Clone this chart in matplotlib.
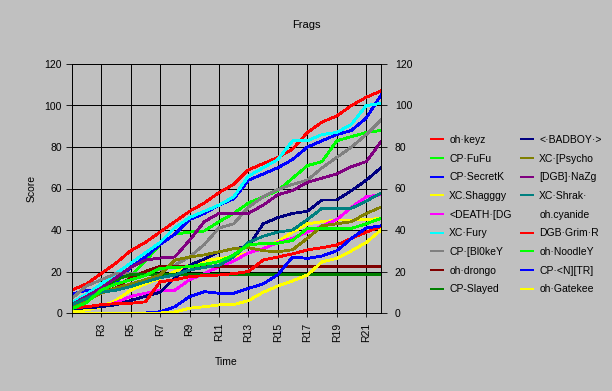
import numpy as np
from matplotlib import pyplot as plt

plt.rcParams['font.family'] = ['Liberation Sans', 'DejaVu Sans']
plt.rcParams['font.size'] = 7.5
plt.rcParams['lines.antialiased'] = False

BG = '#C0C0C0'

rounds = ['R1', 'R2', 'R3', 'R4', 'R5', 'R6', 'R7', 'R8', 'R9', 'R10', 'R11',
          'R12', 'R13', 'R14', 'R15', 'R16', 'R17', 'R18', 'R19', 'R20', 'R21', 'R22']
tick_labels = ['', 'R3', 'R5', 'R7', 'R9', 'R11', 'R13', 'R15', 'R17', 'R19', 'R21']

# очки игроков по раундам
oh_keyz = [11, 14, 19, 24, 30, 34, 39, 44, 49, 53, 58, 62, 69, 72, 75, 79, 87, 92, 95, 100, 104, 107]
cp_fufu = [4, 8, 13, 17, 18, 25, 33, 38, 39, 39.5, 44, 48, 53, 56, 59, 65, 71, 73, 83, 85, 87, 88]
cp_secretk = [9, 11, 11, 15, 22, 27, 33, 38, 45, 48, 52, 55, 64, 67, 70, 74, 80, 83, 86, 88, 94, 105]
xc_shagggy = [0.5, 1.5, 3, 6, 11, 14, 16.7, 20, 23, 25, 26.3, 27, 29, 31, 34.5, 39, 43, 44, 44.8, 44.8, 45, 45.6]
death_dg = [2, 2.5, 3, 5, 8, 9.5, 11, 11, 16, 19, 22.3, 25, 29, 31, 34, 36, 39, 42, 45, 51, 56, 57]
xc_fury = [5, 9, 14, 19, 24, 29, 34, 41, 46, 49, 52, 56, 66, 70, 74, 83, 83, 86, 87, 91, 100, 101]
cp_blokey = [7, 13, 16, 19, 19, 19, 21, 23, 27, 33, 41, 43, 51, 56, 59.5, 62, 64, 70, 75, 80, 86, 93]
oh_drongo = [3, 6, 10, 12, 17, 20, 22.5, 22.5, 22.5, 22.5, 22.5, 22.5, 22.5, 22.5, 22.5, 22.5, 22.5, 22.5, 22.5, 22.5, 22.5, 22.5]
cp_slayed = [4, 7, 12, 16, 18.5, 18.5, 18.5, 18.5, 18.5, 18.5, 18.5, 18.5, 18.5, 18.5, 18.5, 18.5, 18.5, 18.5, 18.5, 18.5, 18.5, 18.5]
badboy = [2, 2.5, 3, 4, 6, 8, 10, 17, 23, 26, 29.5, 31, 32, 43, 46, 48, 49, 54.5, 54.5, 59, 64, 70]
xc_psycho = [3, 6, 9.5, 12, 14, 16, 18.3, 25.5, 27, 28, 29.5, 31, 31.5, 30, 29.5, 30.5, 36, 42, 43, 44, 48, 51]
dgb_nazg = [4, 8, 12, 17, 22, 25.5, 26.5, 27, 35, 44, 48, 48, 48, 52, 57, 59, 63, 65, 67, 70.5, 73, 82.5]
xc_shrak = [4, 7, 10, 11, 12.7, 15, 17, 18.3, 20.7, 22, 23, 27, 34, 37, 39, 40, 45, 50.5, 50.5, 50.5, 54, 57.7]
oh_cyanide = [np.nan] * 22
dgb_grim = [2.4, 3, 4, 4.5, 4.7, 5.4, 15, 16, 17.5, 18, 18.3, 19, 20, 25.5, 27, 28.5, 30.4, 31.5, 32.8, 36, 39, 41.6]
oh_noodley = [2, 5, 11, 14, 16, 18, 21.5, 22, 22.3, 23.5, 24.7, 28, 32.8, 33.5, 33.6, 35, 40.8, 40.8, 40.8, 40.8, 43, 45.6]
cp_ntr = [0, 0, 0, 0, 0, 0, 0.6, 3, 7.9, 10.3, 9.5, 9.5, 11.9, 14, 18.5, 27, 26.3, 27.5, 30, 36, 41, 42]
oh_gatekee = [0, 0, 0, 0, 0, 0, 0, 0.5, 2.3, 3, 3.9, 4, 6, 10, 13, 15.5, 18.3, 24.7, 26.3, 30, 34, 40]

names = ['oh·keyz', 'CP·FuFu', 'CP·SecretK', 'XC.Shagggy', '<DEATH·[DG', 'XC·Fury',
         'CP·[Bl0keY', 'oh·drongo', 'CP-Slayed', '<·BADBOY·>', 'XC·[Psycho', '[DGB]·NaZg',
         'XC·Shrak·', 'oh.cyanide', 'DGB·Grim·R', 'oh·NoodleY', 'CP·<N][TR]', 'oh·Gatekee']
series = [oh_keyz, cp_fufu, cp_secretk, xc_shagggy, death_dg, xc_fury, cp_blokey, oh_drongo,
          cp_slayed, badboy, xc_psycho, dgb_nazg, xc_shrak, oh_cyanide, dgb_grim, oh_noodley,
          cp_ntr, oh_gatekee]
colors = ['#FF0000', '#00FF00', '#0000FF', '#FFFF00', '#FF00FF', '#00FFFF', '#808080', '#800000',
          '#008000', '#000080', '#808000', '#800080', '#008080', '#C0C0C0', '#FF0000', '#00FF00',
          '#0000FF', '#FFFF00']

fig = plt.figure(figsize=(6.12, 3.91), dpi=100, facecolor=BG)
ax = fig.add_axes([71.7 / 612, 1 - 313 / 391, 309.3 / 612, 249 / 391])
ax.set_facecolor(BG)

x = np.arange(len(rounds))
lines = []
for vals, c, n in zip(series, colors, names):
    ln, = ax.plot(x, vals, color=c, lw=1.3, label=n, zorder=3)
    lines.append(ln)

ax.set_xlim(0, len(rounds) - 1)
ax.set_ylim(0, 120)
ax.set_yticks(range(0, 121, 20))
ax.set_xticks(range(0, 21, 2))
ax.set_xticklabels(tick_labels, rotation=90)
ax.grid(True, color='black', lw=0.6, zorder=1)
ax.set_axisbelow(True)
ax.tick_params(axis='x', direction='out', length=3, width=0.6, pad=4)
ax.tick_params(axis='y', direction='out', length=4, width=0.6, pad=3)
for s in ax.spines.values():
    s.set_linewidth(0.6)
    s.set_color('black')

ax2 = ax.twinx()
ax2.set_ylim(0, 120)
ax2.set_yticks(range(0, 121, 20))
ax2.tick_params(axis='y', direction='out', length=4, width=0.6, pad=6)
for s in ax2.spines.values():
    s.set_linewidth(0.6)

ax.set_xlabel('Time', labelpad=11)
ax.set_ylabel('Score', labelpad=5.5)
fig.text(0.5, 1 - 25 / 391, 'Frags', ha='center', va='center', fontsize=8)

leg_kw = dict(frameon=False, handlelength=1.15, handletextpad=0.6, borderpad=0,
              borderaxespad=0, labelspacing=0.83, fontsize=7.5, loc='upper left')
leg1 = fig.legend(lines[:9], names[:9], bbox_to_anchor=(431 / 612, 1 - 135 / 391), **leg_kw)
leg2 = fig.legend(lines[9:], names[9:], bbox_to_anchor=(521 / 612, 1 - 135 / 391), **leg_kw)

fig.savefig('out.png', dpi=100, facecolor=BG)
